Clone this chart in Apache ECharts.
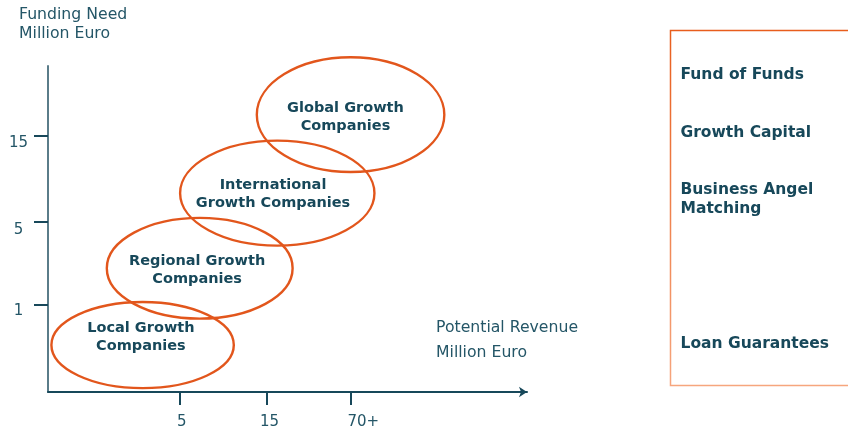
<!DOCTYPE html>
<html>
<head>
<meta charset="utf-8">
<script src="https://cdn.jsdelivr.net/npm/echarts@6/dist/echarts.min.js"></script>
<style>
  html, body { margin: 0; padding: 0; background: #ffffff; }
  #chart { width: 848px; height: 436px; }
</style>
</head>
<body>
<div id="chart"></div>
<script>
// Growth stages placed on a revenue / funding-need grid.
// Axis units are "stage steps": one unit is the distance between two ticks.
const stageNames = [
  'Local Growth\nCompanies',
  'Regional Growth\nCompanies',
  'International\nGrowth Companies',
  'Global Growth\nCompanies'
];
const centerX = [0.56, 1.23, 2.14, 3.00];
const centerY = [0.55, 1.45, 2.33, 3.25];
const radiusX = [1.07, 1.09, 1.14, 1.10];
const radiusY = [0.505, 0.59, 0.615, 0.672];
const labelX = [0.54, 1.20, 2.09, 2.94];
const labelY = [0.645, 1.43, 2.32, 3.22];

// Axis ticks (Potential Revenue / Funding Need, million euro)
const xTickPos = [1.0, 2.02, 3.0];
const xLabelPos = [1.02, 2.05, 3.15];
const xTickLabels = ['5', '15', '70+'];
const yTickPos = [1.02, 1.99, 3.0];
const yLabelPos = [0.95, 1.90, 2.92];
const yTickLabels = ['1', '5', '15'];

// Financing instruments listed in the side panel
const instruments = ['Fund of Funds', 'Growth Capital', 'Business Angel\nMatching', 'Loan Guarantees'];

const FONT = '"DejaVu Sans", Verdana, sans-serif';
const DARK = '#17485a';
const TEXT = '#245667';
const ORANGE = '#e2561c';

function nearestLabel(v, positions, labels) {
  let best = 0;
  for (let i = 1; i < positions.length; i++) {
    if (Math.abs(positions[i] - v) < Math.abs(positions[best] - v)) best = i;
  }
  return labels[best];
}

const chart = echarts.init(document.getElementById('chart'), null, { renderer: 'canvas' });

const instrumentRows = [74.5, 132.5, 199.5, 343.5];

const option = {
  animation: false,
  backgroundColor: '#ffffff',
  grid: { left: 48, right: 321, top: 66, bottom: 44 },
  xAxis: {
    type: 'value',
    min: -0.55,
    max: 5.07,
    splitLine: { show: false },
    axisLine: {
      show: true,
      onZero: false,
      symbol: ['none', 'arrow'],
      symbolSize: [8, 8],
      lineStyle: { color: DARK, width: 2 }
    },
    axisTick: {
      show: true,
      customValues: xTickPos,
      length: 13,
      lineStyle: { color: DARK, width: 2 }
    },
    axisLabel: {
      customValues: xLabelPos,
      formatter: v => nearestLabel(v, xLabelPos, xTickLabels),
      margin: 30,
      verticalAlign: 'middle',
      fontSize: 15,
      fontFamily: FONT,
      color: TEXT
    }
  },
  yAxis: {
    type: 'value',
    min: 0,
    max: 3.82,
    splitLine: { show: false },
    axisLine: {
      show: true,
      onZero: false,
      lineStyle: { color: '#5a7c89', width: 2 }
    },
    axisTick: {
      show: true,
      customValues: yTickPos,
      length: 14,
      lineStyle: { color: DARK, width: 2 }
    },
    axisLabel: {
      customValues: yLabelPos,
      formatter: v => nearestLabel(v, yLabelPos, yTickLabels),
      margin: 29.5,
      align: 'center',
      verticalAlign: 'middle',
      fontSize: 15,
      fontFamily: FONT,
      color: TEXT
    }
  },
  graphic: [
    {
      type: 'text',
      x: 19, y: 24.5,
      style: {
        text: 'Funding Need\nMillion Euro',
        font: '15.7px ' + FONT,
        lineHeight: 19,
        fill: TEXT,
        align: 'left',
        verticalAlign: 'middle'
      }
    },
    {
      type: 'text',
      x: 436, y: 340.5,
      style: {
        text: 'Potential Revenue\nMillion Euro',
        font: '15.7px ' + FONT,
        lineHeight: 24.4,
        fill: TEXT,
        align: 'left',
        verticalAlign: 'middle'
      }
    },
    {
      type: 'rect',
      shape: { x: 670.5, y: 30.5, width: 200, height: 355 },
      style: {
        fill: 'none',
        lineWidth: 1.5,
        stroke: new echarts.graphic.LinearGradient(0, 0, 0, 1, [
          { offset: 0, color: '#e85d1c' },
          { offset: 1, color: '#f6a67e' }
        ])
      }
    }
  ].concat(instruments.map((name, i) => ({
    type: 'text',
    x: 680.5,
    y: instrumentRows[i],
    style: {
      text: name,
      font: 'bold 15.5px ' + FONT,
      lineHeight: 19,
      fill: DARK,
      align: 'left',
      verticalAlign: 'middle'
    }
  }))),
  series: [{
    type: 'custom',
    coordinateSystem: 'cartesian2d',
    silent: true,
    data: stageNames.map((n, i) => [centerX[i], centerY[i], radiusX[i], radiusY[i], labelX[i], labelY[i]]),
    renderItem: (params, api) => {
      const c = api.coord([api.value(0), api.value(1)]);
      const r = api.size([api.value(2), api.value(3)]);
      const t = api.coord([api.value(4), api.value(5)]);
      return {
        type: 'group',
        children: [
          {
            type: 'ellipse',
            shape: { cx: c[0], cy: c[1], rx: r[0], ry: r[1] },
            style: { fill: 'none', stroke: ORANGE, lineWidth: 2.4 }
          },
          {
            type: 'text',
            x: t[0], y: t[1],
            z2: 10,
            style: {
              text: stageNames[params.dataIndex],
              font: 'bold 14.5px ' + FONT,
              lineHeight: 18,
              fill: DARK,
              align: 'center',
              verticalAlign: 'middle'
            }
          }
        ]
      };
    }
  }]
};

chart.setOption(option);
</script>
</body>
</html>
